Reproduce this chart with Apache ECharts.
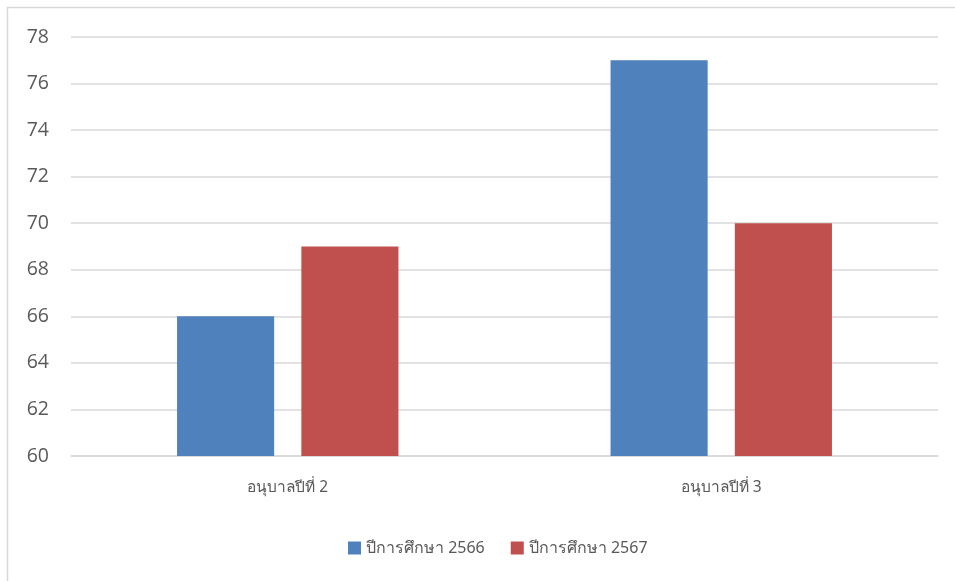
<!DOCTYPE html>
<html><head><meta charset="utf-8">
<script src="https://cdn.jsdelivr.net/npm/echarts@6/dist/echarts.min.js"></script>
<style>html,body{margin:0;padding:0;background:#fff}#c{width:955px;height:581px}</style>
</head><body><div id="c"></div>
<script>
const categories = ['อนุบาลปีที่ 2', 'อนุบาลปีที่ 3'];
const seriesNames = ['ปีการศึกษา 2566', 'ปีการศึกษา 2567'];
const values2566 = [66, 77];
const values2567 = [69, 70];
const yMin = 60, yMax = 78, yStep = 2;

const chart = echarts.init(document.getElementById('c'), null, {renderer: 'canvas'});
chart.setOption({
  animation: false,
  graphic: [{
    type: 'rect', shape: {x: 7.5, y: 7.5, width: 1000, height: 1000},
    style: {fill: 'none', stroke: '#d9d9d9', lineWidth: 1.5}, silent: true
  }],
  grid: {left: 71, right: 17, top: 37, bottom: 125},
  legend: {
    data: seriesNames, bottom: 20, left: 343,
    itemWidth: 13, itemHeight: 13, itemGap: 26,
    icon: 'rect',
    textStyle: {color: '#595959', fontSize: 16, fontFamily: 'Noto Sans'}
  },
  xAxis: {
    type: 'category', data: categories,
    axisLine: {show: true, lineStyle: {color: '#d9d9d9', width: 1.5}},
    axisTick: {show: false},
    axisLabel: {color: '#595959', fontSize: 15.5, margin: 24, fontFamily: 'Noto Sans'}
  },
  yAxis: {
    type: 'value', min: yMin, max: yMax, interval: yStep,
    axisLine: {show: false}, axisTick: {show: false},
    splitLine: {lineStyle: {color: '#d9d9d9', width: 1.5}},
    axisLabel: {color: '#595959', fontSize: 19.5, margin: 22, fontFamily: 'Open Sans'}
  },
  series: [
    {name: seriesNames[0], type: 'bar', data: values2566, barWidth: '22.4%', barGap: '28%',
     itemStyle: {color: '#4f81bd'}},
    {name: seriesNames[1], type: 'bar', data: values2567, barWidth: '22.4%',
     itemStyle: {color: '#c0504d'}}
  ]
});
</script></body></html>
